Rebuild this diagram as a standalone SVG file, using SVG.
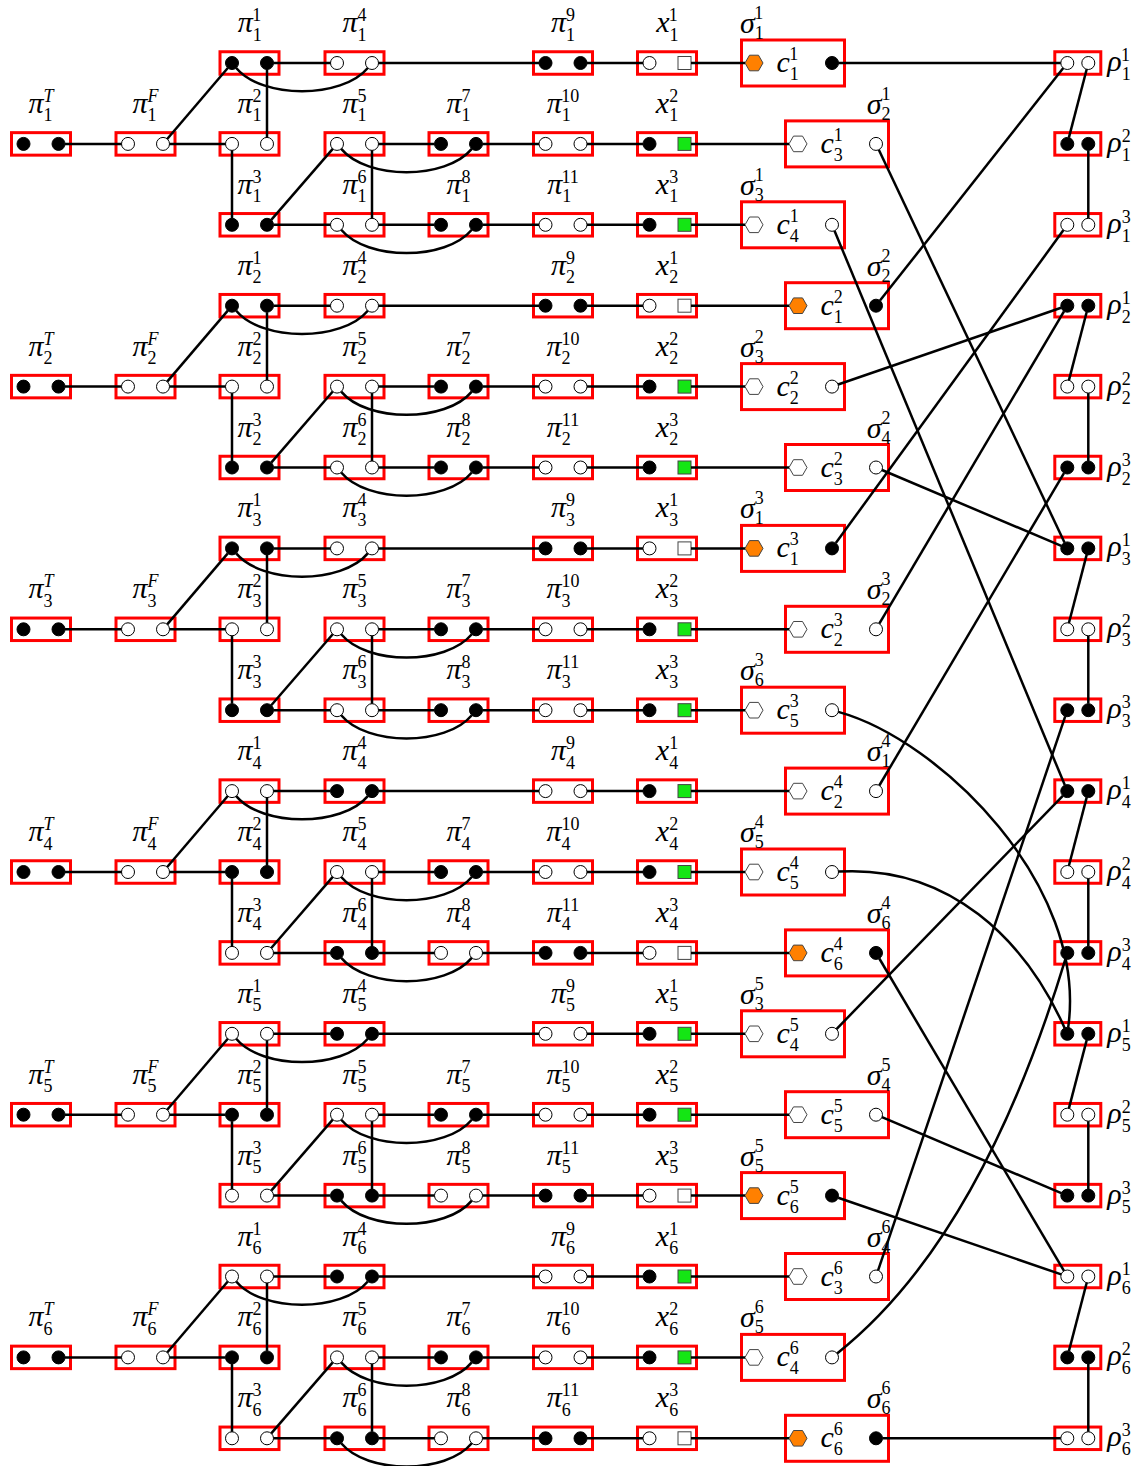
<svg xmlns="http://www.w3.org/2000/svg" xmlns:xlink="http://www.w3.org/1999/xlink" width="1142" height="1466" viewBox="0 0 1142 1466">
<style>
text{font-family:"Liberation Serif","DejaVu Serif",serif;font-size:30px;font-style:italic;fill:#000}
text.m{text-anchor:middle}
text.e{text-anchor:end}
.s{font-size:18px;font-style:normal}
.si{font-size:18px}
#connectors path{fill:none;stroke:#000;stroke-width:2.5}
</style>
<defs>
<rect id="sb" x="-29.5" y="-11.25" width="59" height="22.5" fill="none" stroke="#f00" stroke-width="3"/>
<rect id="rb" x="-23" y="-11.25" width="46" height="22.5" fill="none" stroke="#f00" stroke-width="3"/>
<rect id="cb" x="0" y="-23" width="103" height="46" fill="none" stroke="#f00" stroke-width="3"/>
<circle id="f" r="6.5" fill="#000" stroke="#000" stroke-width="1"/>
<circle id="o" r="6.5" fill="#fff" stroke="#000" stroke-width="1"/>
<rect id="qw" x="-6.5" y="-6.5" width="13" height="13" fill="#fff" stroke="#444" stroke-width="1"/>
<rect id="qg" x="-6.5" y="-6.5" width="13" height="13" fill="#14e614" stroke="#444" stroke-width="1"/>
<polygon id="ho" points="-9,0 -4.5,-7.8 4.5,-7.8 9,0 4.5,7.8 -4.5,7.8" fill="#ff8000" stroke="#444" stroke-width="1"/>
<polygon id="hw" points="-9,0 -4.5,-7.8 4.5,-7.8 9,0 4.5,7.8 -4.5,7.8" fill="#fff" stroke="#444" stroke-width="1"/>
</defs>
<rect width="1142" height="1466" fill="#fff"/>

<g id="nodes">
<!-- block 1 -->
<g id="piT-1" transform="translate(41 143.9)"><use href="#sb"/><use href="#f" x="-17.5"/><use href="#f" x="17.5"/><text class="m" y="-31">π<tspan class="s" dy="8.5">1</tspan><tspan class="si" dx="-9" dy="-19.5">T</tspan></text></g>
<g id="piF-1" transform="translate(145.5 143.9)"><use href="#sb"/><use href="#o" x="-17.5"/><use href="#o" x="17.5"/><text class="m" y="-31">π<tspan class="s" dy="8.5">1</tspan><tspan class="si" dx="-9" dy="-19.5">F</tspan></text></g>
<g id="pi1-1" transform="translate(249.5 63)"><use href="#sb"/><use href="#f" x="-17.5"/><use href="#f" x="17.5"/><text class="m" y="-31">π<tspan class="s" dy="8.5">1</tspan><tspan class="s" dx="-9" dy="-19.5">1</tspan></text></g>
<g id="pi2-1" transform="translate(249.5 143.9)"><use href="#sb"/><use href="#o" x="-17.5"/><use href="#o" x="17.5"/><text class="m" y="-31">π<tspan class="s" dy="8.5">1</tspan><tspan class="s" dx="-9" dy="-19.5">2</tspan></text></g>
<g id="pi3-1" transform="translate(249.5 224.8)"><use href="#sb"/><use href="#f" x="-17.5"/><use href="#f" x="17.5"/><text class="m" y="-31">π<tspan class="s" dy="8.5">1</tspan><tspan class="s" dx="-9" dy="-19.5">3</tspan></text></g>
<g id="pi4-1" transform="translate(354.5 63)"><use href="#sb"/><use href="#o" x="-17.5"/><use href="#o" x="17.5"/><text class="m" y="-31">π<tspan class="s" dy="8.5">1</tspan><tspan class="s" dx="-9" dy="-19.5">4</tspan></text></g>
<g id="pi5-1" transform="translate(354.5 143.9)"><use href="#sb"/><use href="#o" x="-17.5"/><use href="#o" x="17.5"/><text class="m" y="-31">π<tspan class="s" dy="8.5">1</tspan><tspan class="s" dx="-9" dy="-19.5">5</tspan></text></g>
<g id="pi6-1" transform="translate(354.5 224.8)"><use href="#sb"/><use href="#o" x="-17.5"/><use href="#o" x="17.5"/><text class="m" y="-31">π<tspan class="s" dy="8.5">1</tspan><tspan class="s" dx="-9" dy="-19.5">6</tspan></text></g>
<g id="pi7-1" transform="translate(458.5 143.9)"><use href="#sb"/><use href="#f" x="-17.5"/><use href="#f" x="17.5"/><text class="m" y="-31">π<tspan class="s" dy="8.5">1</tspan><tspan class="s" dx="-9" dy="-19.5">7</tspan></text></g>
<g id="pi8-1" transform="translate(458.5 224.8)"><use href="#sb"/><use href="#f" x="-17.5"/><use href="#f" x="17.5"/><text class="m" y="-31">π<tspan class="s" dy="8.5">1</tspan><tspan class="s" dx="-9" dy="-19.5">8</tspan></text></g>
<g id="pi9-1" transform="translate(563 63)"><use href="#sb"/><use href="#f" x="-17.5"/><use href="#f" x="17.5"/><text class="m" y="-31">π<tspan class="s" dy="8.5">1</tspan><tspan class="s" dx="-9" dy="-19.5">9</tspan></text></g>
<g id="pi10-1" transform="translate(563 143.9)"><use href="#sb"/><use href="#o" x="-17.5"/><use href="#o" x="17.5"/><text class="m" y="-31">π<tspan class="s" dy="8.5">1</tspan><tspan class="s" dx="-9" dy="-19.5">10</tspan></text></g>
<g id="pi11-1" transform="translate(563 224.8)"><use href="#sb"/><use href="#o" x="-17.5"/><use href="#o" x="17.5"/><text class="m" y="-31">π<tspan class="s" dy="8.5">1</tspan><tspan class="s" dx="-9" dy="-19.5">11</tspan></text></g>
<g id="x1-1" transform="translate(667 63)"><use href="#sb"/><use href="#o" x="-17.5"/><use href="#qw" x="17.5"/><text class="m" y="-31">x<tspan class="s" dy="8.5">1</tspan><tspan class="s" dx="-9" dy="-19.5">1</tspan></text></g>
<g id="x2-1" transform="translate(667 143.9)"><use href="#sb"/><use href="#f" x="-17.5"/><use href="#qg" x="17.5"/><text class="m" y="-31">x<tspan class="s" dy="8.5">1</tspan><tspan class="s" dx="-9" dy="-19.5">2</tspan></text></g>
<g id="x3-1" transform="translate(667 224.8)"><use href="#sb"/><use href="#f" x="-17.5"/><use href="#qg" x="17.5"/><text class="m" y="-31">x<tspan class="s" dy="8.5">1</tspan><tspan class="s" dx="-9" dy="-19.5">3</tspan></text></g>
<g id="cl-1" transform="translate(741.5 63)"><use href="#cb"/><use href="#ho" x="12.5"/><use href="#f" x="90.5"/><text x="35" y="9">c<tspan class="s" dy="8">1</tspan><tspan class="s" dx="-9" dy="-20">1</tspan></text><text x="-1.5" y="-30">σ<tspan class="s" dy="6">1</tspan><tspan class="s" dx="-9" dy="-20">1</tspan></text></g>
<g id="cl-2" transform="translate(785.5 143.9)"><use href="#cb"/><use href="#hw" x="12.5"/><use href="#o" x="90.5"/><text x="35" y="9">c<tspan class="s" dy="8">3</tspan><tspan class="s" dx="-9" dy="-20">1</tspan></text><text class="e" x="105" y="-30">σ<tspan class="s" dy="6">2</tspan><tspan class="s" dx="-9" dy="-20">1</tspan></text></g>
<g id="cl-3" transform="translate(741.5 224.8)"><use href="#cb"/><use href="#hw" x="12.5"/><use href="#o" x="90.5"/><text x="35" y="9">c<tspan class="s" dy="8">4</tspan><tspan class="s" dx="-9" dy="-20">1</tspan></text><text x="-1.5" y="-30">σ<tspan class="s" dy="6">3</tspan><tspan class="s" dx="-9" dy="-20">1</tspan></text></g>

<!-- block 2 -->
<g id="piT-2" transform="translate(41 386.6)"><use href="#sb"/><use href="#f" x="-17.5"/><use href="#f" x="17.5"/><text class="m" y="-31">π<tspan class="s" dy="8.5">2</tspan><tspan class="si" dx="-9" dy="-19.5">T</tspan></text></g>
<g id="piF-2" transform="translate(145.5 386.6)"><use href="#sb"/><use href="#o" x="-17.5"/><use href="#o" x="17.5"/><text class="m" y="-31">π<tspan class="s" dy="8.5">2</tspan><tspan class="si" dx="-9" dy="-19.5">F</tspan></text></g>
<g id="pi1-2" transform="translate(249.5 305.7)"><use href="#sb"/><use href="#f" x="-17.5"/><use href="#f" x="17.5"/><text class="m" y="-31">π<tspan class="s" dy="8.5">2</tspan><tspan class="s" dx="-9" dy="-19.5">1</tspan></text></g>
<g id="pi2-2" transform="translate(249.5 386.6)"><use href="#sb"/><use href="#o" x="-17.5"/><use href="#o" x="17.5"/><text class="m" y="-31">π<tspan class="s" dy="8.5">2</tspan><tspan class="s" dx="-9" dy="-19.5">2</tspan></text></g>
<g id="pi3-2" transform="translate(249.5 467.5)"><use href="#sb"/><use href="#f" x="-17.5"/><use href="#f" x="17.5"/><text class="m" y="-31">π<tspan class="s" dy="8.5">2</tspan><tspan class="s" dx="-9" dy="-19.5">3</tspan></text></g>
<g id="pi4-2" transform="translate(354.5 305.7)"><use href="#sb"/><use href="#o" x="-17.5"/><use href="#o" x="17.5"/><text class="m" y="-31">π<tspan class="s" dy="8.5">2</tspan><tspan class="s" dx="-9" dy="-19.5">4</tspan></text></g>
<g id="pi5-2" transform="translate(354.5 386.6)"><use href="#sb"/><use href="#o" x="-17.5"/><use href="#o" x="17.5"/><text class="m" y="-31">π<tspan class="s" dy="8.5">2</tspan><tspan class="s" dx="-9" dy="-19.5">5</tspan></text></g>
<g id="pi6-2" transform="translate(354.5 467.5)"><use href="#sb"/><use href="#o" x="-17.5"/><use href="#o" x="17.5"/><text class="m" y="-31">π<tspan class="s" dy="8.5">2</tspan><tspan class="s" dx="-9" dy="-19.5">6</tspan></text></g>
<g id="pi7-2" transform="translate(458.5 386.6)"><use href="#sb"/><use href="#f" x="-17.5"/><use href="#f" x="17.5"/><text class="m" y="-31">π<tspan class="s" dy="8.5">2</tspan><tspan class="s" dx="-9" dy="-19.5">7</tspan></text></g>
<g id="pi8-2" transform="translate(458.5 467.5)"><use href="#sb"/><use href="#f" x="-17.5"/><use href="#f" x="17.5"/><text class="m" y="-31">π<tspan class="s" dy="8.5">2</tspan><tspan class="s" dx="-9" dy="-19.5">8</tspan></text></g>
<g id="pi9-2" transform="translate(563 305.7)"><use href="#sb"/><use href="#f" x="-17.5"/><use href="#f" x="17.5"/><text class="m" y="-31">π<tspan class="s" dy="8.5">2</tspan><tspan class="s" dx="-9" dy="-19.5">9</tspan></text></g>
<g id="pi10-2" transform="translate(563 386.6)"><use href="#sb"/><use href="#o" x="-17.5"/><use href="#o" x="17.5"/><text class="m" y="-31">π<tspan class="s" dy="8.5">2</tspan><tspan class="s" dx="-9" dy="-19.5">10</tspan></text></g>
<g id="pi11-2" transform="translate(563 467.5)"><use href="#sb"/><use href="#o" x="-17.5"/><use href="#o" x="17.5"/><text class="m" y="-31">π<tspan class="s" dy="8.5">2</tspan><tspan class="s" dx="-9" dy="-19.5">11</tspan></text></g>
<g id="x1-2" transform="translate(667 305.7)"><use href="#sb"/><use href="#o" x="-17.5"/><use href="#qw" x="17.5"/><text class="m" y="-31">x<tspan class="s" dy="8.5">2</tspan><tspan class="s" dx="-9" dy="-19.5">1</tspan></text></g>
<g id="x2-2" transform="translate(667 386.6)"><use href="#sb"/><use href="#f" x="-17.5"/><use href="#qg" x="17.5"/><text class="m" y="-31">x<tspan class="s" dy="8.5">2</tspan><tspan class="s" dx="-9" dy="-19.5">2</tspan></text></g>
<g id="x3-2" transform="translate(667 467.5)"><use href="#sb"/><use href="#f" x="-17.5"/><use href="#qg" x="17.5"/><text class="m" y="-31">x<tspan class="s" dy="8.5">2</tspan><tspan class="s" dx="-9" dy="-19.5">3</tspan></text></g>
<g id="cl-4" transform="translate(785.5 305.7)"><use href="#cb"/><use href="#ho" x="12.5"/><use href="#f" x="90.5"/><text x="35" y="9">c<tspan class="s" dy="8">1</tspan><tspan class="s" dx="-9" dy="-20">2</tspan></text><text class="e" x="105" y="-30">σ<tspan class="s" dy="6">2</tspan><tspan class="s" dx="-9" dy="-20">2</tspan></text></g>
<g id="cl-5" transform="translate(741.5 386.6)"><use href="#cb"/><use href="#hw" x="12.5"/><use href="#o" x="90.5"/><text x="35" y="9">c<tspan class="s" dy="8">2</tspan><tspan class="s" dx="-9" dy="-20">2</tspan></text><text x="-1.5" y="-30">σ<tspan class="s" dy="6">3</tspan><tspan class="s" dx="-9" dy="-20">2</tspan></text></g>
<g id="cl-6" transform="translate(785.5 467.5)"><use href="#cb"/><use href="#hw" x="12.5"/><use href="#o" x="90.5"/><text x="35" y="9">c<tspan class="s" dy="8">3</tspan><tspan class="s" dx="-9" dy="-20">2</tspan></text><text class="e" x="105" y="-30">σ<tspan class="s" dy="6">4</tspan><tspan class="s" dx="-9" dy="-20">2</tspan></text></g>

<!-- block 3 -->
<g id="piT-3" transform="translate(41 629.3)"><use href="#sb"/><use href="#f" x="-17.5"/><use href="#f" x="17.5"/><text class="m" y="-31">π<tspan class="s" dy="8.5">3</tspan><tspan class="si" dx="-9" dy="-19.5">T</tspan></text></g>
<g id="piF-3" transform="translate(145.5 629.3)"><use href="#sb"/><use href="#o" x="-17.5"/><use href="#o" x="17.5"/><text class="m" y="-31">π<tspan class="s" dy="8.5">3</tspan><tspan class="si" dx="-9" dy="-19.5">F</tspan></text></g>
<g id="pi1-3" transform="translate(249.5 548.4)"><use href="#sb"/><use href="#f" x="-17.5"/><use href="#f" x="17.5"/><text class="m" y="-31">π<tspan class="s" dy="8.5">3</tspan><tspan class="s" dx="-9" dy="-19.5">1</tspan></text></g>
<g id="pi2-3" transform="translate(249.5 629.3)"><use href="#sb"/><use href="#o" x="-17.5"/><use href="#o" x="17.5"/><text class="m" y="-31">π<tspan class="s" dy="8.5">3</tspan><tspan class="s" dx="-9" dy="-19.5">2</tspan></text></g>
<g id="pi3-3" transform="translate(249.5 710.2)"><use href="#sb"/><use href="#f" x="-17.5"/><use href="#f" x="17.5"/><text class="m" y="-31">π<tspan class="s" dy="8.5">3</tspan><tspan class="s" dx="-9" dy="-19.5">3</tspan></text></g>
<g id="pi4-3" transform="translate(354.5 548.4)"><use href="#sb"/><use href="#o" x="-17.5"/><use href="#o" x="17.5"/><text class="m" y="-31">π<tspan class="s" dy="8.5">3</tspan><tspan class="s" dx="-9" dy="-19.5">4</tspan></text></g>
<g id="pi5-3" transform="translate(354.5 629.3)"><use href="#sb"/><use href="#o" x="-17.5"/><use href="#o" x="17.5"/><text class="m" y="-31">π<tspan class="s" dy="8.5">3</tspan><tspan class="s" dx="-9" dy="-19.5">5</tspan></text></g>
<g id="pi6-3" transform="translate(354.5 710.2)"><use href="#sb"/><use href="#o" x="-17.5"/><use href="#o" x="17.5"/><text class="m" y="-31">π<tspan class="s" dy="8.5">3</tspan><tspan class="s" dx="-9" dy="-19.5">6</tspan></text></g>
<g id="pi7-3" transform="translate(458.5 629.3)"><use href="#sb"/><use href="#f" x="-17.5"/><use href="#f" x="17.5"/><text class="m" y="-31">π<tspan class="s" dy="8.5">3</tspan><tspan class="s" dx="-9" dy="-19.5">7</tspan></text></g>
<g id="pi8-3" transform="translate(458.5 710.2)"><use href="#sb"/><use href="#f" x="-17.5"/><use href="#f" x="17.5"/><text class="m" y="-31">π<tspan class="s" dy="8.5">3</tspan><tspan class="s" dx="-9" dy="-19.5">8</tspan></text></g>
<g id="pi9-3" transform="translate(563 548.4)"><use href="#sb"/><use href="#f" x="-17.5"/><use href="#f" x="17.5"/><text class="m" y="-31">π<tspan class="s" dy="8.5">3</tspan><tspan class="s" dx="-9" dy="-19.5">9</tspan></text></g>
<g id="pi10-3" transform="translate(563 629.3)"><use href="#sb"/><use href="#o" x="-17.5"/><use href="#o" x="17.5"/><text class="m" y="-31">π<tspan class="s" dy="8.5">3</tspan><tspan class="s" dx="-9" dy="-19.5">10</tspan></text></g>
<g id="pi11-3" transform="translate(563 710.2)"><use href="#sb"/><use href="#o" x="-17.5"/><use href="#o" x="17.5"/><text class="m" y="-31">π<tspan class="s" dy="8.5">3</tspan><tspan class="s" dx="-9" dy="-19.5">11</tspan></text></g>
<g id="x1-3" transform="translate(667 548.4)"><use href="#sb"/><use href="#o" x="-17.5"/><use href="#qw" x="17.5"/><text class="m" y="-31">x<tspan class="s" dy="8.5">3</tspan><tspan class="s" dx="-9" dy="-19.5">1</tspan></text></g>
<g id="x2-3" transform="translate(667 629.3)"><use href="#sb"/><use href="#f" x="-17.5"/><use href="#qg" x="17.5"/><text class="m" y="-31">x<tspan class="s" dy="8.5">3</tspan><tspan class="s" dx="-9" dy="-19.5">2</tspan></text></g>
<g id="x3-3" transform="translate(667 710.2)"><use href="#sb"/><use href="#f" x="-17.5"/><use href="#qg" x="17.5"/><text class="m" y="-31">x<tspan class="s" dy="8.5">3</tspan><tspan class="s" dx="-9" dy="-19.5">3</tspan></text></g>
<g id="cl-7" transform="translate(741.5 548.4)"><use href="#cb"/><use href="#ho" x="12.5"/><use href="#f" x="90.5"/><text x="35" y="9">c<tspan class="s" dy="8">1</tspan><tspan class="s" dx="-9" dy="-20">3</tspan></text><text x="-1.5" y="-30">σ<tspan class="s" dy="6">1</tspan><tspan class="s" dx="-9" dy="-20">3</tspan></text></g>
<g id="cl-8" transform="translate(785.5 629.3)"><use href="#cb"/><use href="#hw" x="12.5"/><use href="#o" x="90.5"/><text x="35" y="9">c<tspan class="s" dy="8">2</tspan><tspan class="s" dx="-9" dy="-20">3</tspan></text><text class="e" x="105" y="-30">σ<tspan class="s" dy="6">2</tspan><tspan class="s" dx="-9" dy="-20">3</tspan></text></g>
<g id="cl-9" transform="translate(741.5 710.2)"><use href="#cb"/><use href="#hw" x="12.5"/><use href="#o" x="90.5"/><text x="35" y="9">c<tspan class="s" dy="8">5</tspan><tspan class="s" dx="-9" dy="-20">3</tspan></text><text x="-1.5" y="-30">σ<tspan class="s" dy="6">6</tspan><tspan class="s" dx="-9" dy="-20">3</tspan></text></g>

<!-- block 4 -->
<g id="piT-4" transform="translate(41 872)"><use href="#sb"/><use href="#f" x="-17.5"/><use href="#f" x="17.5"/><text class="m" y="-31">π<tspan class="s" dy="8.5">4</tspan><tspan class="si" dx="-9" dy="-19.5">T</tspan></text></g>
<g id="piF-4" transform="translate(145.5 872)"><use href="#sb"/><use href="#o" x="-17.5"/><use href="#o" x="17.5"/><text class="m" y="-31">π<tspan class="s" dy="8.5">4</tspan><tspan class="si" dx="-9" dy="-19.5">F</tspan></text></g>
<g id="pi1-4" transform="translate(249.5 791.1)"><use href="#sb"/><use href="#o" x="-17.5"/><use href="#o" x="17.5"/><text class="m" y="-31">π<tspan class="s" dy="8.5">4</tspan><tspan class="s" dx="-9" dy="-19.5">1</tspan></text></g>
<g id="pi2-4" transform="translate(249.5 872)"><use href="#sb"/><use href="#f" x="-17.5"/><use href="#f" x="17.5"/><text class="m" y="-31">π<tspan class="s" dy="8.5">4</tspan><tspan class="s" dx="-9" dy="-19.5">2</tspan></text></g>
<g id="pi3-4" transform="translate(249.5 952.9)"><use href="#sb"/><use href="#o" x="-17.5"/><use href="#o" x="17.5"/><text class="m" y="-31">π<tspan class="s" dy="8.5">4</tspan><tspan class="s" dx="-9" dy="-19.5">3</tspan></text></g>
<g id="pi4-4" transform="translate(354.5 791.1)"><use href="#sb"/><use href="#f" x="-17.5"/><use href="#f" x="17.5"/><text class="m" y="-31">π<tspan class="s" dy="8.5">4</tspan><tspan class="s" dx="-9" dy="-19.5">4</tspan></text></g>
<g id="pi5-4" transform="translate(354.5 872)"><use href="#sb"/><use href="#o" x="-17.5"/><use href="#o" x="17.5"/><text class="m" y="-31">π<tspan class="s" dy="8.5">4</tspan><tspan class="s" dx="-9" dy="-19.5">5</tspan></text></g>
<g id="pi6-4" transform="translate(354.5 952.9)"><use href="#sb"/><use href="#f" x="-17.5"/><use href="#f" x="17.5"/><text class="m" y="-31">π<tspan class="s" dy="8.5">4</tspan><tspan class="s" dx="-9" dy="-19.5">6</tspan></text></g>
<g id="pi7-4" transform="translate(458.5 872)"><use href="#sb"/><use href="#f" x="-17.5"/><use href="#f" x="17.5"/><text class="m" y="-31">π<tspan class="s" dy="8.5">4</tspan><tspan class="s" dx="-9" dy="-19.5">7</tspan></text></g>
<g id="pi8-4" transform="translate(458.5 952.9)"><use href="#sb"/><use href="#o" x="-17.5"/><use href="#o" x="17.5"/><text class="m" y="-31">π<tspan class="s" dy="8.5">4</tspan><tspan class="s" dx="-9" dy="-19.5">8</tspan></text></g>
<g id="pi9-4" transform="translate(563 791.1)"><use href="#sb"/><use href="#o" x="-17.5"/><use href="#o" x="17.5"/><text class="m" y="-31">π<tspan class="s" dy="8.5">4</tspan><tspan class="s" dx="-9" dy="-19.5">9</tspan></text></g>
<g id="pi10-4" transform="translate(563 872)"><use href="#sb"/><use href="#o" x="-17.5"/><use href="#o" x="17.5"/><text class="m" y="-31">π<tspan class="s" dy="8.5">4</tspan><tspan class="s" dx="-9" dy="-19.5">10</tspan></text></g>
<g id="pi11-4" transform="translate(563 952.9)"><use href="#sb"/><use href="#f" x="-17.5"/><use href="#f" x="17.5"/><text class="m" y="-31">π<tspan class="s" dy="8.5">4</tspan><tspan class="s" dx="-9" dy="-19.5">11</tspan></text></g>
<g id="x1-4" transform="translate(667 791.1)"><use href="#sb"/><use href="#f" x="-17.5"/><use href="#qg" x="17.5"/><text class="m" y="-31">x<tspan class="s" dy="8.5">4</tspan><tspan class="s" dx="-9" dy="-19.5">1</tspan></text></g>
<g id="x2-4" transform="translate(667 872)"><use href="#sb"/><use href="#f" x="-17.5"/><use href="#qg" x="17.5"/><text class="m" y="-31">x<tspan class="s" dy="8.5">4</tspan><tspan class="s" dx="-9" dy="-19.5">2</tspan></text></g>
<g id="x3-4" transform="translate(667 952.9)"><use href="#sb"/><use href="#o" x="-17.5"/><use href="#qw" x="17.5"/><text class="m" y="-31">x<tspan class="s" dy="8.5">4</tspan><tspan class="s" dx="-9" dy="-19.5">3</tspan></text></g>
<g id="cl-10" transform="translate(785.5 791.1)"><use href="#cb"/><use href="#hw" x="12.5"/><use href="#o" x="90.5"/><text x="35" y="9">c<tspan class="s" dy="8">2</tspan><tspan class="s" dx="-9" dy="-20">4</tspan></text><text class="e" x="105" y="-30">σ<tspan class="s" dy="6">1</tspan><tspan class="s" dx="-9" dy="-20">4</tspan></text></g>
<g id="cl-11" transform="translate(741.5 872)"><use href="#cb"/><use href="#hw" x="12.5"/><use href="#o" x="90.5"/><text x="35" y="9">c<tspan class="s" dy="8">5</tspan><tspan class="s" dx="-9" dy="-20">4</tspan></text><text x="-1.5" y="-30">σ<tspan class="s" dy="6">5</tspan><tspan class="s" dx="-9" dy="-20">4</tspan></text></g>
<g id="cl-12" transform="translate(785.5 952.9)"><use href="#cb"/><use href="#ho" x="12.5"/><use href="#f" x="90.5"/><text x="35" y="9">c<tspan class="s" dy="8">6</tspan><tspan class="s" dx="-9" dy="-20">4</tspan></text><text class="e" x="105" y="-30">σ<tspan class="s" dy="6">6</tspan><tspan class="s" dx="-9" dy="-20">4</tspan></text></g>

<!-- block 5 -->
<g id="piT-5" transform="translate(41 1114.7)"><use href="#sb"/><use href="#f" x="-17.5"/><use href="#f" x="17.5"/><text class="m" y="-31">π<tspan class="s" dy="8.5">5</tspan><tspan class="si" dx="-9" dy="-19.5">T</tspan></text></g>
<g id="piF-5" transform="translate(145.5 1114.7)"><use href="#sb"/><use href="#o" x="-17.5"/><use href="#o" x="17.5"/><text class="m" y="-31">π<tspan class="s" dy="8.5">5</tspan><tspan class="si" dx="-9" dy="-19.5">F</tspan></text></g>
<g id="pi1-5" transform="translate(249.5 1033.8)"><use href="#sb"/><use href="#o" x="-17.5"/><use href="#o" x="17.5"/><text class="m" y="-31">π<tspan class="s" dy="8.5">5</tspan><tspan class="s" dx="-9" dy="-19.5">1</tspan></text></g>
<g id="pi2-5" transform="translate(249.5 1114.7)"><use href="#sb"/><use href="#f" x="-17.5"/><use href="#f" x="17.5"/><text class="m" y="-31">π<tspan class="s" dy="8.5">5</tspan><tspan class="s" dx="-9" dy="-19.5">2</tspan></text></g>
<g id="pi3-5" transform="translate(249.5 1195.6)"><use href="#sb"/><use href="#o" x="-17.5"/><use href="#o" x="17.5"/><text class="m" y="-31">π<tspan class="s" dy="8.5">5</tspan><tspan class="s" dx="-9" dy="-19.5">3</tspan></text></g>
<g id="pi4-5" transform="translate(354.5 1033.8)"><use href="#sb"/><use href="#f" x="-17.5"/><use href="#f" x="17.5"/><text class="m" y="-31">π<tspan class="s" dy="8.5">5</tspan><tspan class="s" dx="-9" dy="-19.5">4</tspan></text></g>
<g id="pi5-5" transform="translate(354.5 1114.7)"><use href="#sb"/><use href="#o" x="-17.5"/><use href="#o" x="17.5"/><text class="m" y="-31">π<tspan class="s" dy="8.5">5</tspan><tspan class="s" dx="-9" dy="-19.5">5</tspan></text></g>
<g id="pi6-5" transform="translate(354.5 1195.6)"><use href="#sb"/><use href="#f" x="-17.5"/><use href="#f" x="17.5"/><text class="m" y="-31">π<tspan class="s" dy="8.5">5</tspan><tspan class="s" dx="-9" dy="-19.5">6</tspan></text></g>
<g id="pi7-5" transform="translate(458.5 1114.7)"><use href="#sb"/><use href="#f" x="-17.5"/><use href="#f" x="17.5"/><text class="m" y="-31">π<tspan class="s" dy="8.5">5</tspan><tspan class="s" dx="-9" dy="-19.5">7</tspan></text></g>
<g id="pi8-5" transform="translate(458.5 1195.6)"><use href="#sb"/><use href="#o" x="-17.5"/><use href="#o" x="17.5"/><text class="m" y="-31">π<tspan class="s" dy="8.5">5</tspan><tspan class="s" dx="-9" dy="-19.5">8</tspan></text></g>
<g id="pi9-5" transform="translate(563 1033.8)"><use href="#sb"/><use href="#o" x="-17.5"/><use href="#o" x="17.5"/><text class="m" y="-31">π<tspan class="s" dy="8.5">5</tspan><tspan class="s" dx="-9" dy="-19.5">9</tspan></text></g>
<g id="pi10-5" transform="translate(563 1114.7)"><use href="#sb"/><use href="#o" x="-17.5"/><use href="#o" x="17.5"/><text class="m" y="-31">π<tspan class="s" dy="8.5">5</tspan><tspan class="s" dx="-9" dy="-19.5">10</tspan></text></g>
<g id="pi11-5" transform="translate(563 1195.6)"><use href="#sb"/><use href="#f" x="-17.5"/><use href="#f" x="17.5"/><text class="m" y="-31">π<tspan class="s" dy="8.5">5</tspan><tspan class="s" dx="-9" dy="-19.5">11</tspan></text></g>
<g id="x1-5" transform="translate(667 1033.8)"><use href="#sb"/><use href="#f" x="-17.5"/><use href="#qg" x="17.5"/><text class="m" y="-31">x<tspan class="s" dy="8.5">5</tspan><tspan class="s" dx="-9" dy="-19.5">1</tspan></text></g>
<g id="x2-5" transform="translate(667 1114.7)"><use href="#sb"/><use href="#f" x="-17.5"/><use href="#qg" x="17.5"/><text class="m" y="-31">x<tspan class="s" dy="8.5">5</tspan><tspan class="s" dx="-9" dy="-19.5">2</tspan></text></g>
<g id="x3-5" transform="translate(667 1195.6)"><use href="#sb"/><use href="#o" x="-17.5"/><use href="#qw" x="17.5"/><text class="m" y="-31">x<tspan class="s" dy="8.5">5</tspan><tspan class="s" dx="-9" dy="-19.5">3</tspan></text></g>
<g id="cl-13" transform="translate(741.5 1033.8)"><use href="#cb"/><use href="#hw" x="12.5"/><use href="#o" x="90.5"/><text x="35" y="9">c<tspan class="s" dy="8">4</tspan><tspan class="s" dx="-9" dy="-20">5</tspan></text><text x="-1.5" y="-30">σ<tspan class="s" dy="6">3</tspan><tspan class="s" dx="-9" dy="-20">5</tspan></text></g>
<g id="cl-14" transform="translate(785.5 1114.7)"><use href="#cb"/><use href="#hw" x="12.5"/><use href="#o" x="90.5"/><text x="35" y="9">c<tspan class="s" dy="8">5</tspan><tspan class="s" dx="-9" dy="-20">5</tspan></text><text class="e" x="105" y="-30">σ<tspan class="s" dy="6">4</tspan><tspan class="s" dx="-9" dy="-20">5</tspan></text></g>
<g id="cl-15" transform="translate(741.5 1195.6)"><use href="#cb"/><use href="#ho" x="12.5"/><use href="#f" x="90.5"/><text x="35" y="9">c<tspan class="s" dy="8">6</tspan><tspan class="s" dx="-9" dy="-20">5</tspan></text><text x="-1.5" y="-30">σ<tspan class="s" dy="6">5</tspan><tspan class="s" dx="-9" dy="-20">5</tspan></text></g>

<!-- block 6 -->
<g id="piT-6" transform="translate(41 1357.4)"><use href="#sb"/><use href="#f" x="-17.5"/><use href="#f" x="17.5"/><text class="m" y="-31">π<tspan class="s" dy="8.5">6</tspan><tspan class="si" dx="-9" dy="-19.5">T</tspan></text></g>
<g id="piF-6" transform="translate(145.5 1357.4)"><use href="#sb"/><use href="#o" x="-17.5"/><use href="#o" x="17.5"/><text class="m" y="-31">π<tspan class="s" dy="8.5">6</tspan><tspan class="si" dx="-9" dy="-19.5">F</tspan></text></g>
<g id="pi1-6" transform="translate(249.5 1276.5)"><use href="#sb"/><use href="#o" x="-17.5"/><use href="#o" x="17.5"/><text class="m" y="-31">π<tspan class="s" dy="8.5">6</tspan><tspan class="s" dx="-9" dy="-19.5">1</tspan></text></g>
<g id="pi2-6" transform="translate(249.5 1357.4)"><use href="#sb"/><use href="#f" x="-17.5"/><use href="#f" x="17.5"/><text class="m" y="-31">π<tspan class="s" dy="8.5">6</tspan><tspan class="s" dx="-9" dy="-19.5">2</tspan></text></g>
<g id="pi3-6" transform="translate(249.5 1438.3)"><use href="#sb"/><use href="#o" x="-17.5"/><use href="#o" x="17.5"/><text class="m" y="-31">π<tspan class="s" dy="8.5">6</tspan><tspan class="s" dx="-9" dy="-19.5">3</tspan></text></g>
<g id="pi4-6" transform="translate(354.5 1276.5)"><use href="#sb"/><use href="#f" x="-17.5"/><use href="#f" x="17.5"/><text class="m" y="-31">π<tspan class="s" dy="8.5">6</tspan><tspan class="s" dx="-9" dy="-19.5">4</tspan></text></g>
<g id="pi5-6" transform="translate(354.5 1357.4)"><use href="#sb"/><use href="#o" x="-17.5"/><use href="#o" x="17.5"/><text class="m" y="-31">π<tspan class="s" dy="8.5">6</tspan><tspan class="s" dx="-9" dy="-19.5">5</tspan></text></g>
<g id="pi6-6" transform="translate(354.5 1438.3)"><use href="#sb"/><use href="#f" x="-17.5"/><use href="#f" x="17.5"/><text class="m" y="-31">π<tspan class="s" dy="8.5">6</tspan><tspan class="s" dx="-9" dy="-19.5">6</tspan></text></g>
<g id="pi7-6" transform="translate(458.5 1357.4)"><use href="#sb"/><use href="#f" x="-17.5"/><use href="#f" x="17.5"/><text class="m" y="-31">π<tspan class="s" dy="8.5">6</tspan><tspan class="s" dx="-9" dy="-19.5">7</tspan></text></g>
<g id="pi8-6" transform="translate(458.5 1438.3)"><use href="#sb"/><use href="#o" x="-17.5"/><use href="#o" x="17.5"/><text class="m" y="-31">π<tspan class="s" dy="8.5">6</tspan><tspan class="s" dx="-9" dy="-19.5">8</tspan></text></g>
<g id="pi9-6" transform="translate(563 1276.5)"><use href="#sb"/><use href="#o" x="-17.5"/><use href="#o" x="17.5"/><text class="m" y="-31">π<tspan class="s" dy="8.5">6</tspan><tspan class="s" dx="-9" dy="-19.5">9</tspan></text></g>
<g id="pi10-6" transform="translate(563 1357.4)"><use href="#sb"/><use href="#o" x="-17.5"/><use href="#o" x="17.5"/><text class="m" y="-31">π<tspan class="s" dy="8.5">6</tspan><tspan class="s" dx="-9" dy="-19.5">10</tspan></text></g>
<g id="pi11-6" transform="translate(563 1438.3)"><use href="#sb"/><use href="#f" x="-17.5"/><use href="#f" x="17.5"/><text class="m" y="-31">π<tspan class="s" dy="8.5">6</tspan><tspan class="s" dx="-9" dy="-19.5">11</tspan></text></g>
<g id="x1-6" transform="translate(667 1276.5)"><use href="#sb"/><use href="#f" x="-17.5"/><use href="#qg" x="17.5"/><text class="m" y="-31">x<tspan class="s" dy="8.5">6</tspan><tspan class="s" dx="-9" dy="-19.5">1</tspan></text></g>
<g id="x2-6" transform="translate(667 1357.4)"><use href="#sb"/><use href="#f" x="-17.5"/><use href="#qg" x="17.5"/><text class="m" y="-31">x<tspan class="s" dy="8.5">6</tspan><tspan class="s" dx="-9" dy="-19.5">2</tspan></text></g>
<g id="x3-6" transform="translate(667 1438.3)"><use href="#sb"/><use href="#o" x="-17.5"/><use href="#qw" x="17.5"/><text class="m" y="-31">x<tspan class="s" dy="8.5">6</tspan><tspan class="s" dx="-9" dy="-19.5">3</tspan></text></g>
<g id="cl-16" transform="translate(785.5 1276.5)"><use href="#cb"/><use href="#hw" x="12.5"/><use href="#o" x="90.5"/><text x="35" y="9">c<tspan class="s" dy="8">3</tspan><tspan class="s" dx="-9" dy="-20">6</tspan></text><text class="e" x="105" y="-30">σ<tspan class="s" dy="6">4</tspan><tspan class="s" dx="-9" dy="-20">6</tspan></text></g>
<g id="cl-17" transform="translate(741.5 1357.4)"><use href="#cb"/><use href="#hw" x="12.5"/><use href="#o" x="90.5"/><text x="35" y="9">c<tspan class="s" dy="8">4</tspan><tspan class="s" dx="-9" dy="-20">6</tspan></text><text x="-1.5" y="-30">σ<tspan class="s" dy="6">5</tspan><tspan class="s" dx="-9" dy="-20">6</tspan></text></g>
<g id="cl-18" transform="translate(785.5 1438.3)"><use href="#cb"/><use href="#ho" x="12.5"/><use href="#f" x="90.5"/><text x="35" y="9">c<tspan class="s" dy="8">6</tspan><tspan class="s" dx="-9" dy="-20">6</tspan></text><text class="e" x="105" y="-30">σ<tspan class="s" dy="6">6</tspan><tspan class="s" dx="-9" dy="-20">6</tspan></text></g>

<!-- rho column -->
<g id="rho1-1" transform="translate(1077.8 63)"><use href="#rb"/><use href="#o" x="-10.5"/><use href="#o" x="10.5"/><text x="29.5" y="8">ρ<tspan class="s" dy="9">1</tspan><tspan class="s" dx="-9" dy="-19">1</tspan></text></g>
<g id="rho1-2" transform="translate(1077.8 143.9)"><use href="#rb"/><use href="#f" x="-10.5"/><use href="#f" x="10.5"/><text x="29.5" y="8">ρ<tspan class="s" dy="9">1</tspan><tspan class="s" dx="-9" dy="-19">2</tspan></text></g>
<g id="rho1-3" transform="translate(1077.8 224.8)"><use href="#rb"/><use href="#o" x="-10.5"/><use href="#o" x="10.5"/><text x="29.5" y="8">ρ<tspan class="s" dy="9">1</tspan><tspan class="s" dx="-9" dy="-19">3</tspan></text></g>
<g id="rho2-1" transform="translate(1077.8 305.7)"><use href="#rb"/><use href="#f" x="-10.5"/><use href="#f" x="10.5"/><text x="29.5" y="8">ρ<tspan class="s" dy="9">2</tspan><tspan class="s" dx="-9" dy="-19">1</tspan></text></g>
<g id="rho2-2" transform="translate(1077.8 386.6)"><use href="#rb"/><use href="#o" x="-10.5"/><use href="#o" x="10.5"/><text x="29.5" y="8">ρ<tspan class="s" dy="9">2</tspan><tspan class="s" dx="-9" dy="-19">2</tspan></text></g>
<g id="rho2-3" transform="translate(1077.8 467.5)"><use href="#rb"/><use href="#f" x="-10.5"/><use href="#f" x="10.5"/><text x="29.5" y="8">ρ<tspan class="s" dy="9">2</tspan><tspan class="s" dx="-9" dy="-19">3</tspan></text></g>
<g id="rho3-1" transform="translate(1077.8 548.4)"><use href="#rb"/><use href="#f" x="-10.5"/><use href="#f" x="10.5"/><text x="29.5" y="8">ρ<tspan class="s" dy="9">3</tspan><tspan class="s" dx="-9" dy="-19">1</tspan></text></g>
<g id="rho3-2" transform="translate(1077.8 629.3)"><use href="#rb"/><use href="#o" x="-10.5"/><use href="#o" x="10.5"/><text x="29.5" y="8">ρ<tspan class="s" dy="9">3</tspan><tspan class="s" dx="-9" dy="-19">2</tspan></text></g>
<g id="rho3-3" transform="translate(1077.8 710.2)"><use href="#rb"/><use href="#f" x="-10.5"/><use href="#f" x="10.5"/><text x="29.5" y="8">ρ<tspan class="s" dy="9">3</tspan><tspan class="s" dx="-9" dy="-19">3</tspan></text></g>
<g id="rho4-1" transform="translate(1077.8 791.1)"><use href="#rb"/><use href="#f" x="-10.5"/><use href="#f" x="10.5"/><text x="29.5" y="8">ρ<tspan class="s" dy="9">4</tspan><tspan class="s" dx="-9" dy="-19">1</tspan></text></g>
<g id="rho4-2" transform="translate(1077.8 872)"><use href="#rb"/><use href="#o" x="-10.5"/><use href="#o" x="10.5"/><text x="29.5" y="8">ρ<tspan class="s" dy="9">4</tspan><tspan class="s" dx="-9" dy="-19">2</tspan></text></g>
<g id="rho4-3" transform="translate(1077.8 952.9)"><use href="#rb"/><use href="#f" x="-10.5"/><use href="#f" x="10.5"/><text x="29.5" y="8">ρ<tspan class="s" dy="9">4</tspan><tspan class="s" dx="-9" dy="-19">3</tspan></text></g>
<g id="rho5-1" transform="translate(1077.8 1033.8)"><use href="#rb"/><use href="#f" x="-10.5"/><use href="#f" x="10.5"/><text x="29.5" y="8">ρ<tspan class="s" dy="9">5</tspan><tspan class="s" dx="-9" dy="-19">1</tspan></text></g>
<g id="rho5-2" transform="translate(1077.8 1114.7)"><use href="#rb"/><use href="#o" x="-10.5"/><use href="#o" x="10.5"/><text x="29.5" y="8">ρ<tspan class="s" dy="9">5</tspan><tspan class="s" dx="-9" dy="-19">2</tspan></text></g>
<g id="rho5-3" transform="translate(1077.8 1195.6)"><use href="#rb"/><use href="#f" x="-10.5"/><use href="#f" x="10.5"/><text x="29.5" y="8">ρ<tspan class="s" dy="9">5</tspan><tspan class="s" dx="-9" dy="-19">3</tspan></text></g>
<g id="rho6-1" transform="translate(1077.8 1276.5)"><use href="#rb"/><use href="#o" x="-10.5"/><use href="#o" x="10.5"/><text x="29.5" y="8">ρ<tspan class="s" dy="9">6</tspan><tspan class="s" dx="-9" dy="-19">1</tspan></text></g>
<g id="rho6-2" transform="translate(1077.8 1357.4)"><use href="#rb"/><use href="#f" x="-10.5"/><use href="#f" x="10.5"/><text x="29.5" y="8">ρ<tspan class="s" dy="9">6</tspan><tspan class="s" dx="-9" dy="-19">2</tspan></text></g>
<g id="rho6-3" transform="translate(1077.8 1438.3)"><use href="#rb"/><use href="#o" x="-10.5"/><use href="#o" x="10.5"/><text x="29.5" y="8">ρ<tspan class="s" dy="9">6</tspan><tspan class="s" dx="-9" dy="-19">3</tspan></text></g>
</g>

<g id="connectors">
<g transform="translate(0 63)">
<path d="M65 80.9H121.5"/><path d="M169.5 80.9H225.5"/><path d="M167.2 75.95L227.8 4.95"/><path d="M267 6.5V74.4"/><path d="M232 87.4V155.3"/>
<path d="M273.5 0H330.5"/><path d="M378.5 0H539"/><path d="M587 0H643"/><path d="M691 0H745"/>
<path d="M271.25 156.88L332.75 85.82"/><path d="M273.5 161.8H330.5"/><path d="M372 87.4V155.3"/>
<path d="M378.5 80.9H434.5"/><path d="M378.5 161.8H434.5"/><path d="M482.5 80.9H539"/><path d="M482.5 161.8H539"/>
<path d="M587 80.9H643"/><path d="M587 161.8H643"/><path d="M691 80.9H789"/><path d="M691 161.8H745"/>
<path d="M236.2 5C262 36 342 36 367.8 5"/><path d="M341.2 85.9C367 116.9 446 116.9 471.8 85.9"/><path d="M341.2 166.8C367 197.8 446 197.8 471.8 166.8"/>
</g>
<g transform="translate(0 305.7)">
<path d="M65 80.9H121.5"/><path d="M169.5 80.9H225.5"/><path d="M167.2 75.95L227.8 4.95"/><path d="M267 6.5V74.4"/><path d="M232 87.4V155.3"/>
<path d="M273.5 0H330.5"/><path d="M378.5 0H539"/><path d="M587 0H643"/><path d="M691 0H789"/>
<path d="M271.25 156.88L332.75 85.82"/><path d="M273.5 161.8H330.5"/><path d="M372 87.4V155.3"/>
<path d="M378.5 80.9H434.5"/><path d="M378.5 161.8H434.5"/><path d="M482.5 80.9H539"/><path d="M482.5 161.8H539"/>
<path d="M587 80.9H643"/><path d="M587 161.8H643"/><path d="M691 80.9H745"/><path d="M691 161.8H789"/>
<path d="M236.2 5C262 36 342 36 367.8 5"/><path d="M341.2 85.9C367 116.9 446 116.9 471.8 85.9"/><path d="M341.2 166.8C367 197.8 446 197.8 471.8 166.8"/>
</g>
<g transform="translate(0 548.4)">
<path d="M65 80.9H121.5"/><path d="M169.5 80.9H225.5"/><path d="M167.2 75.95L227.8 4.95"/><path d="M267 6.5V74.4"/><path d="M232 87.4V155.3"/>
<path d="M273.5 0H330.5"/><path d="M378.5 0H539"/><path d="M587 0H643"/><path d="M691 0H745"/>
<path d="M271.25 156.88L332.75 85.82"/><path d="M273.5 161.8H330.5"/><path d="M372 87.4V155.3"/>
<path d="M378.5 80.9H434.5"/><path d="M378.5 161.8H434.5"/><path d="M482.5 80.9H539"/><path d="M482.5 161.8H539"/>
<path d="M587 80.9H643"/><path d="M587 161.8H643"/><path d="M691 80.9H789"/><path d="M691 161.8H745"/>
<path d="M236.2 5C262 36 342 36 367.8 5"/><path d="M341.2 85.9C367 116.9 446 116.9 471.8 85.9"/><path d="M341.2 166.8C367 197.8 446 197.8 471.8 166.8"/>
</g>
<g transform="translate(0 791.1)">
<path d="M65 80.9H121.5"/><path d="M169.5 80.9H225.5"/><path d="M167.2 75.95L227.8 4.95"/><path d="M267 6.5V74.4"/><path d="M232 87.4V155.3"/>
<path d="M273.5 0H330.5"/><path d="M378.5 0H539"/><path d="M587 0H643"/><path d="M691 0H789"/>
<path d="M271.25 156.88L332.75 85.82"/><path d="M273.5 161.8H330.5"/><path d="M372 87.4V155.3"/>
<path d="M378.5 80.9H434.5"/><path d="M378.5 161.8H434.5"/><path d="M482.5 80.9H539"/><path d="M482.5 161.8H539"/>
<path d="M587 80.9H643"/><path d="M587 161.8H643"/><path d="M691 80.9H745"/><path d="M691 161.8H789"/>
<path d="M236.2 5C262 36 342 36 367.8 5"/><path d="M341.2 85.9C367 116.9 446 116.9 471.8 85.9"/><path d="M341.2 166.8C367 197.8 446 197.8 471.8 166.8"/>
</g>
<g transform="translate(0 1033.8)">
<path d="M65 80.9H121.5"/><path d="M169.5 80.9H225.5"/><path d="M167.2 75.95L227.8 4.95"/><path d="M267 6.5V74.4"/><path d="M232 87.4V155.3"/>
<path d="M273.5 0H330.5"/><path d="M378.5 0H539"/><path d="M587 0H643"/><path d="M691 0H745"/>
<path d="M271.25 156.88L332.75 85.82"/><path d="M273.5 161.8H330.5"/><path d="M372 87.4V155.3"/>
<path d="M378.5 80.9H434.5"/><path d="M378.5 161.8H434.5"/><path d="M482.5 80.9H539"/><path d="M482.5 161.8H539"/>
<path d="M587 80.9H643"/><path d="M587 161.8H643"/><path d="M691 80.9H789"/><path d="M691 161.8H745"/>
<path d="M236.2 5C262 36 342 36 367.8 5"/><path d="M341.2 85.9C367 116.9 446 116.9 471.8 85.9"/><path d="M341.2 166.8C367 197.8 446 197.8 471.8 166.8"/>
</g>
<g transform="translate(0 1276.5)">
<path d="M65 80.9H121.5"/><path d="M169.5 80.9H225.5"/><path d="M167.2 75.95L227.8 4.95"/><path d="M267 6.5V74.4"/><path d="M232 87.4V155.3"/>
<path d="M273.5 0H330.5"/><path d="M378.5 0H539"/><path d="M587 0H643"/><path d="M691 0H789"/>
<path d="M271.25 156.88L332.75 85.82"/><path d="M273.5 161.8H330.5"/><path d="M372 87.4V155.3"/>
<path d="M378.5 80.9H434.5"/><path d="M378.5 161.8H434.5"/><path d="M482.5 80.9H539"/><path d="M482.5 161.8H539"/>
<path d="M587 80.9H643"/><path d="M587 161.8H643"/><path d="M691 80.9H745"/><path d="M691 161.8H789"/>
<path d="M236.2 5C262 36 342 36 367.8 5"/><path d="M341.2 85.9C367 116.9 446 116.9 471.8 85.9"/><path d="M341.2 166.8C367 197.8 446 197.8 471.8 166.8"/>
</g>
<!-- clause to rho -->
<path d="M838.5 63H1060.8"/>
<path d="M880 300.6L1063.3 68.1"/>
<path d="M835.8 543.1L1063.5 230.1"/>
<path d="M838.1 384.5L1061.1 307.8"/>
<path d="M879.3 623.7L1064 311.3"/>
<path d="M879.3 785.5L1064 473.1"/>
<path d="M878.8 149.8L1064.5 542.5"/>
<path d="M882 470L1061.3 545.9"/>
<path d="M878.1 1270.3L1065.2 716.4"/>
<path d="M834.5 230.8L1064.8 785.1"/>
<path d="M836.5 1029.1L1062.8 795.8"/>
<path d="M882 1117.2L1061.3 1193.1"/>
<path d="M879.3 958.5L1064 1270.9"/>
<path d="M838.2 1197.7L1061.2 1274.4"/>
<path d="M882.5 1438.3H1060.8"/>
<path d="M837.1 1353.4Q980 1240 1065.4 959.1"/>
<path d="M838.3 711.9C940 740 1088 885 1068.2 1027.4"/>
<path d="M838.5 871.6C950 865 1025 940 1064.6 1027.9"/>
<!-- rho internal -->
<path d="M1086.7 69.29L1068.9 137.61"/><path d="M1088.3 150.4V218.3"/>
<path d="M1086.7 311.99L1068.9 380.31"/><path d="M1088.3 393.1V461"/>
<path d="M1086.7 554.69L1068.9 623.01"/><path d="M1088.3 635.8V703.7"/>
<path d="M1086.7 797.39L1068.9 865.71"/><path d="M1088.3 878.5V946.4"/>
<path d="M1086.7 1040.09L1068.9 1108.41"/><path d="M1088.3 1121.2V1189.1"/>
<path d="M1086.7 1282.79L1068.9 1351.11"/><path d="M1088.3 1363.9V1431.8"/>
</g>
</svg>
